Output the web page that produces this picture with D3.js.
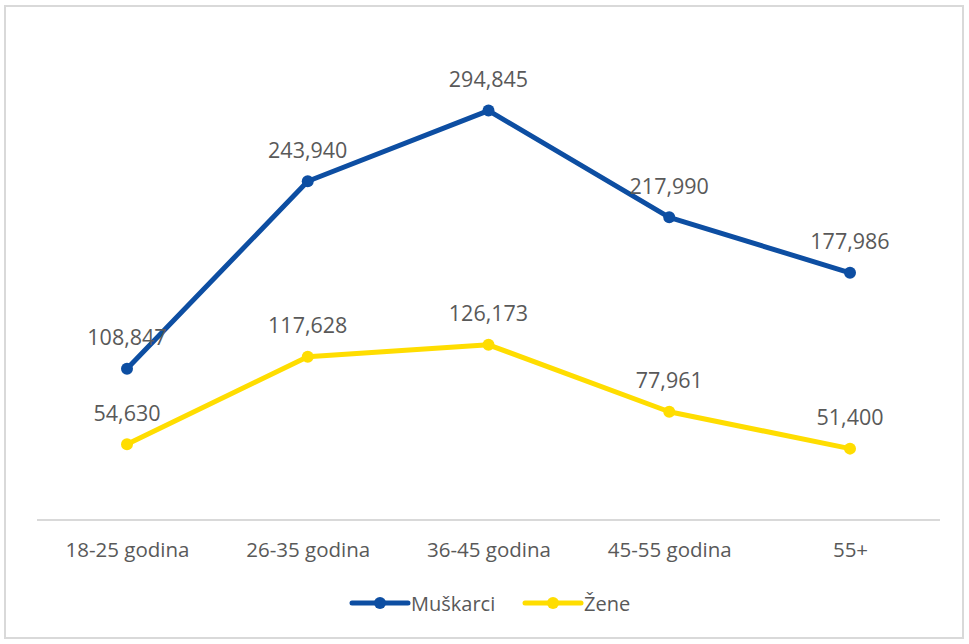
<!DOCTYPE html>
<html><head><meta charset="utf-8">
<script src="https://cdn.jsdelivr.net/npm/d3@7"></script>
<style>
html,body{margin:0;padding:0;background:#fff;}
svg{display:block;font-family:"Open Sans","Noto Sans",sans-serif;}
</style></head>
<body><svg id="c" width="969" height="644"></svg>
<script>
const categories = ["18-25 godina","26-35 godina","36-45 godina","45-55 godina","55+"];
const muskarci = [108847, 243940, 294845, 217990, 177986];
const zene = [54630, 117628, 126173, 77961, 51400];
const seriesNames = ["Muškarci","Žene"];
const colors = ["#0D4EA2","#FFDD00"];

const svg = d3.select("#c");
svg.append("rect").attr("x",5).attr("y",6).attr("width",958).attr("height",632)
  .attr("fill","#fff").attr("stroke","#d9d9d9").attr("stroke-width",2);

const x = d3.scalePoint().domain(categories).range([127,850]);
const y = d3.scaleLinear().domain([0,350000]).range([520,34]);

// x axis
const xAxis = svg.append("g").attr("transform","translate(0,520)")
  .call(d3.axisBottom(x).tickSize(0).tickPadding(22));
xAxis.select(".domain").attr("d","M37,0H940").attr("stroke","#d9d9d9").attr("stroke-width",2);
xAxis.selectAll("text").attr("fill","#595959").attr("font-size",20.5)
  .attr("font-family","'Open Sans','Noto Sans',sans-serif").attr("dy","0.32em").attr("y",30);

const data = [muskarci, zene];
const line = d3.line().x((d,i)=>x(categories[i])).y(d=>y(d));
data.forEach((s,k)=>{
  svg.append("path").datum(s).attr("d",line).attr("fill","none")
    .attr("stroke",colors[k]).attr("stroke-width",5).attr("stroke-linejoin","round");
  svg.selectAll(null).data(s).enter().append("circle")
    .attr("cx",(d,i)=>x(categories[i])).attr("cy",d=>y(d)).attr("r",6).attr("fill",colors[k]);
  svg.selectAll(null).data(s).enter().append("text")
    .attr("x",(d,i)=>x(categories[i])).attr("y",d=>y(d)-32)
    .attr("text-anchor","middle").attr("dominant-baseline","central")
    .attr("fill","#595959").attr("font-size",21.5)
    .text(d=>d3.format(",")(d));
});

// legend
const lx = [352, 525];
seriesNames.forEach((n,k)=>{
  const g = svg.append("g").attr("transform",`translate(${lx[k]},603)`);
  g.append("line").attr("x1",0).attr("x2",56).attr("stroke",colors[k]).attr("stroke-width",5).attr("stroke-linecap","round");
  g.append("circle").attr("cx",28).attr("r",6).attr("fill",colors[k]);
  g.append("text").attr("x",59).attr("dominant-baseline","central").attr("fill","#595959").attr("font-size",20).text(n);
});
</script></body></html>
